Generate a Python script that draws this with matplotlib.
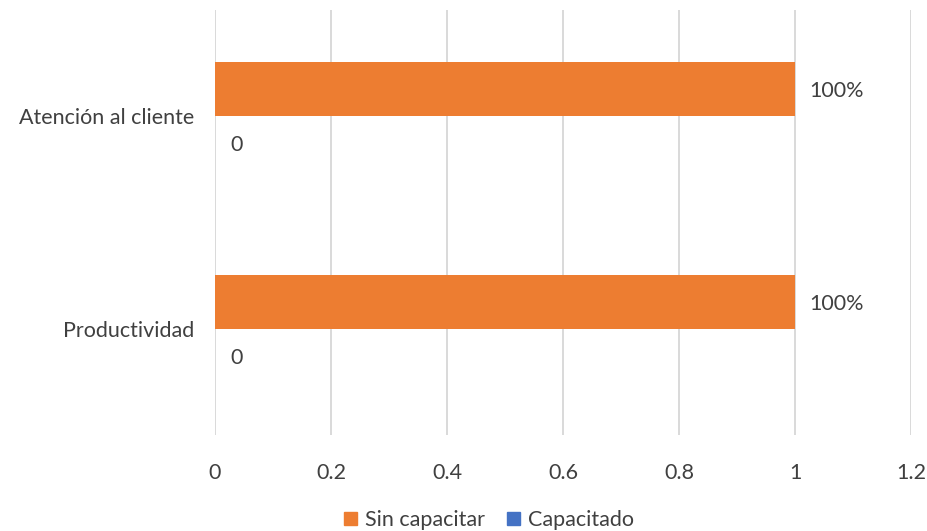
import matplotlib.pyplot as plt
import numpy as np
from matplotlib.patches import Patch

categories = ["Productividad", "Atención al cliente"]
sin_capacitar = [1, 1]
capacitado = [0, 0]
sin_labels = ["100%", "100%"]
cap_labels = ["0", "0"]
xticks = [0, 0.2, 0.4, 0.6, 0.8, 1, 1.2]

ORANGE = "#ED7D31"
BLUE = "#4472C4"
TEXT = "#404040"

plt.rcParams['font.family'] = ['Lato', 'DejaVu Sans']

fig = plt.figure(figsize=(9.28, 5.31), dpi=100)
ax = fig.add_axes([0.2317, 0.1808, 0.75, 0.8004])

y = np.arange(len(categories))
h = 0.254
bars_sin = ax.barh(y + h / 2, sin_capacitar, height=h, color=ORANGE, zorder=3)
bars_cap = ax.barh(y - h / 2, capacitado, height=h, color=BLUE, zorder=3)

for rect, lab in zip(bars_sin, sin_labels):
    ax.text(rect.get_width() + 0.024, rect.get_y() + rect.get_height() / 2 - 0.01, lab,
            va="center", ha="left", fontsize=15.5, color=TEXT)
for rect, lab in zip(bars_cap, cap_labels):
    ax.text(rect.get_width() + 0.026, rect.get_y() + rect.get_height() / 2 - 0.01, lab,
            va="center", ha="left", fontsize=15.5, color=TEXT)

ax.set_xlim(0, 1.2)
ax.set_ylim(-0.5, 1.5)
ax.set_xticks(xticks)
ax.set_xticklabels([f"{t:g}" for t in xticks])
ax.set_yticks(y)
ax.set_yticklabels(categories)
ax.tick_params(axis="both", length=0, labelsize=15.5, colors=TEXT)
ax.tick_params(axis="x", pad=20)
ax.tick_params(axis="y", pad=15)
ax.grid(axis="x", color="#D9D9D9", linewidth=1.4, zorder=0)
for s in ax.spines.values():
    s.set_visible(False)

handles = [Patch(color=ORANGE, label="Sin capacitar"), Patch(color=BLUE, label="Capacitado")]
fig.legend(handles=handles, loc="lower center", bbox_to_anchor=(0.527, -0.035), ncol=2,
           frameon=False, fontsize=15.5, handlelength=0.6, handleheight=0.6,
           handletextpad=0.4, columnspacing=1.0, labelcolor=TEXT)

fig.savefig("out.png", dpi=100)
